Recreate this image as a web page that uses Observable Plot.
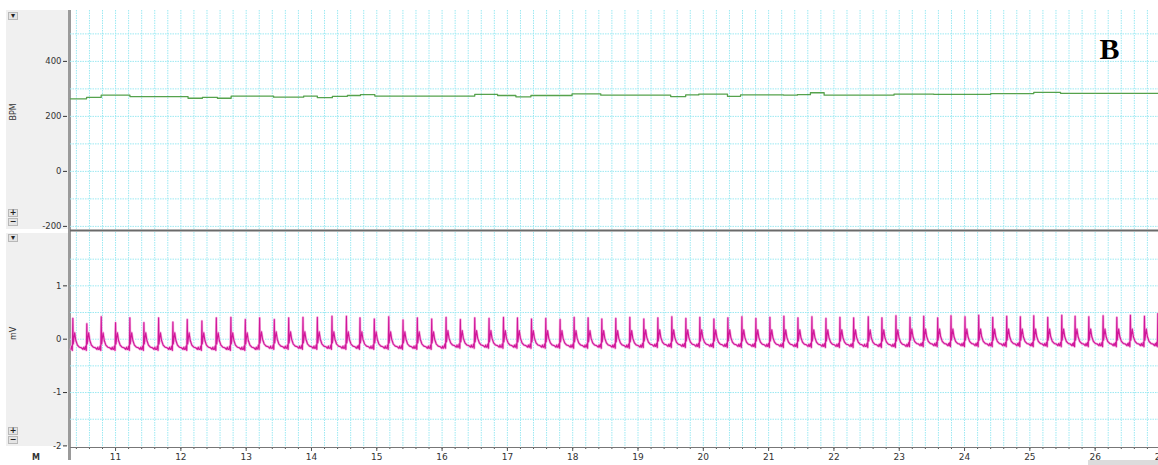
<!DOCTYPE html>
<html><head><meta charset="utf-8">
<script src="https://cdn.jsdelivr.net/npm/d3@7"></script>
<script src="https://cdn.jsdelivr.net/npm/@observablehq/plot@0.6"></script>
<style>
body{margin:0;background:#fff;overflow:hidden;font-family:"DejaVu Sans",sans-serif}
#wrap{position:relative;width:1158px;height:465px;overflow:hidden}
.side{position:absolute;background:#f0f0f0}
.btn{position:absolute;left:8px;width:8px;height:6px;border:1px solid #b8b8b8;background:#e4e4e4;font-size:8px;line-height:6px;text-align:center;color:#222;font-weight:bold}
.vbar{position:absolute;left:68px;width:3px;background:#9a9a9a}
#top,#bot{position:absolute;left:0}
#top{top:0}#bot{top:232px}
</style></head><body>
<div id="wrap">
  <div class="side" style="left:6px;top:10px;width:62px;height:219px"></div>
  <div class="side" style="left:6px;top:233px;width:62px;height:213px"></div>
  <div class="vbar" style="top:10px;height:450px"></div>
  <div style="position:absolute;left:1088px;top:460px;width:70px;height:5px;background:#dcdcdc"></div>
  <div id="top"></div>
  <div id="bot"></div>
  <div class="btn" style="top:12px">▾</div>
  <div class="btn" style="top:209px">+</div>
  <div class="btn" style="top:218px">−</div>
  <div class="btn" style="top:234px">▾</div>
  <div class="btn" style="top:427px">+</div>
  <div class="btn" style="top:436px">−</div>
  <div style="position:absolute;left:32px;top:453px;font-size:8px;font-weight:bold;color:#333">M</div>
</div>
<script>
// ---- data ----
const xDomain = [10.31, 26.97];
const xTicks = [11,12,13,14,15,16,17,18,19,20,21,22,23,24,25,26,27];
const bpmTicks = [-200, 0, 200, 400];
const mvTicks = [-2, -1, 0, 1];

// heart rate (BPM), step series
const bpmTime = [10.31,10.556,10.78,11.22,12.11,12.33,12.56,12.77,13.42,13.88,14.09,14.32,14.55,14.75,14.97,16.5,16.85,17.13,17.36,17.99,18.43,19.50,19.73,19.93,20.37,20.57,21.23,21.44,21.64,21.85,22.92,23.53,24.4,25.06,25.47,26.97];
const bpmValue = [264,269,277,272,266,269,266,274,270,274,268,273,276,279,274,280,276,271,276,282,277,272,278,281,273,278,277,279,286,277,281,280,283,287,284,284];

// ECG: R-peak times (s) and R-peak amplitudes (mV)
const ecgBeatTime = [10.346,10.560,10.781,11.000,11.219,11.434,11.659,11.878,12.098,12.322,12.543,12.766,12.987,13.206,13.431,13.651,13.870,14.090,14.314,14.535,14.743,
14.962,15.183,15.402,15.621,15.841,16.061,16.280,16.500,16.719,16.940,
17.154,17.369,17.588,17.807,18.022,18.236,18.446,
18.660,18.875,19.089,19.304,19.518,19.733,19.947,20.162,20.376,20.591,20.805,21.020,21.234,21.449,21.663,21.878,22.092,22.302,
22.526,22.735,22.950,23.165,23.375,23.589,23.793,24.007,24.217,24.432,24.646,24.855,25.060,25.274,25.489,25.693,25.903,26.122,26.332,26.540,26.755,26.960];
const ecgPeak = [0.39,0.29,0.42,0.31,0.40,0.31,0.40,0.32,0.37,0.34,0.40,0.41,0.37,0.40,0.37,0.40,0.41,0.41,0.43,0.43,0.40,
0.38,0.42,0.36,0.40,0.38,0.41,0.37,0.40,0.39,0.41,
0.40,0.38,0.39,0.37,0.41,0.40,0.38,
0.39,0.41,0.38,0.40,0.42,0.39,0.41,0.38,0.40,0.42,0.39,0.41,0.43,0.40,0.42,0.39,0.41,0.40,
0.42,0.40,0.44,0.41,0.43,0.40,0.44,0.42,0.45,0.41,0.43,0.42,0.44,0.41,0.45,0.43,0.42,0.44,0.41,0.45,0.43,0.48];
// baseline level by time segment
const ecgBaseStart = [10, 13, 16, 19, 23];
const ecgBaseValue = [-0.21, -0.19, -0.17, -0.155, -0.14];
// shape of one beat around its R peak: time offset (s) and level above baseline (mV)
const beatOffset = [-0.03,-0.018,-0.008,0,0.006,0.014,0.028,0.045,0.07,0.1,0.13,0.155,0.168,0.178];
const beatShape  = [0.02, 0.08, 0.0, null, 0.12, 0.2, 0.33, 0.19, 0.1, 0.06, 0.05, 0.02, 0.06, 0.02];
const rIndex = 3;

const bpm = bpmTime.map((t, i) => ({t, v: bpmValue[i]}));
const ecg = [];
ecgBeatTime.forEach((t, i) => {
  const base = ecgBaseValue[ecgBaseStart.findLastIndex(s => s <= t)];
  beatOffset.forEach((o, k) => {
    ecg.push({t: t + o, v: k === rIndex ? ecgPeak[i] : base + beatShape[k]});
  });
});
const ecgIn = ecg.filter(d => d.t >= xDomain[0] && d.t <= xDomain[1]);

const minorX = d3.range(10.4, 27.0, 0.2);
const gridColor = "#9ce9f2";
const gridDash = "1.5,1";
const plain = d => `${d}`;
const common = {
  width: 1158, marginLeft: 70, marginRight: 0,
  style: {background: "transparent", fontFamily: "DejaVu Sans, sans-serif", fontSize: "8.5px", color: "#333", overflow: "visible"}
};

const topPlot = Plot.plot({
  ...common, height: 232, marginTop: 10, marginBottom: 2,
  x: {domain: xDomain, axis: null},
  y: {domain: [-215, 585], axis: null},
  marks: [
    Plot.gridX(minorX, {stroke: gridColor, strokeOpacity: 1, strokeDasharray: gridDash}),
    Plot.gridY(d3.range(-200, 501, 100), {stroke: gridColor, strokeOpacity: 1, strokeDasharray: gridDash}),
    Plot.axisY(bpmTicks, {tickSize: 4, tickPadding: 2, dx: -3, label: null, fontSize: 8.5, tickFormat: plain}),
    Plot.text(["BPM"], {frameAnchor: "left", dx: -57, rotate: -90, fontSize: 8, fill: "#333"}),
    Plot.line(bpm, {x: "t", y: "v", curve: "step-after", stroke: "#56a24c", strokeWidth: 1.3}),
    Plot.ruleY([-215], {stroke: "#6a6a6a", strokeWidth: 2}),
    Plot.text(["B"], {frameAnchor: "top-right", dx: -49, dy: 38.5, fontSize: 30, fontWeight: "bold", fontFamily: "Liberation Serif, serif", fill: "#000", textAnchor: "middle", lineAnchor: "middle"})
  ]
});
document.getElementById("top").append(topPlot);

const botPlot = Plot.plot({
  ...common, height: 233, marginTop: 0, marginBottom: 18,
  x: {domain: xDomain},
  y: {domain: [-2.03, 2.0], axis: null},
  marks: [
    Plot.gridX(minorX, {stroke: gridColor, strokeOpacity: 1, strokeDasharray: gridDash}),
    Plot.gridY(d3.range(-1.5, 1.51, 0.5), {stroke: gridColor, strokeOpacity: 1, strokeDasharray: gridDash}),
    Plot.axisY(mvTicks, {tickSize: 4, tickPadding: 2, dx: -3, label: null, fontSize: 8.5, tickFormat: plain}),
    Plot.text(["mV"], {frameAnchor: "left", dx: -57, rotate: -90, fontSize: 8, fill: "#333"}),
    Plot.axisX(minorX, {tickSize: 2, tickFormat: () => "", label: null, stroke: "#555"}),
    Plot.axisX(xTicks, {tickSize: 4, tickPadding: 2, label: null, fontSize: 9, stroke: "#555", tickFormat: plain}),
    Plot.ruleY([-2.03], {stroke: "#777", strokeWidth: 1.2}),
    Plot.line(ecgIn, {x: "t", y: "v", stroke: "#f5a8de", strokeWidth: 2.4}),
    Plot.line(ecgIn, {x: "t", y: "v", stroke: "#d0189a", strokeWidth: 1.1})
  ]
});
document.getElementById("bot").append(botPlot);
</script>
</body></html>
